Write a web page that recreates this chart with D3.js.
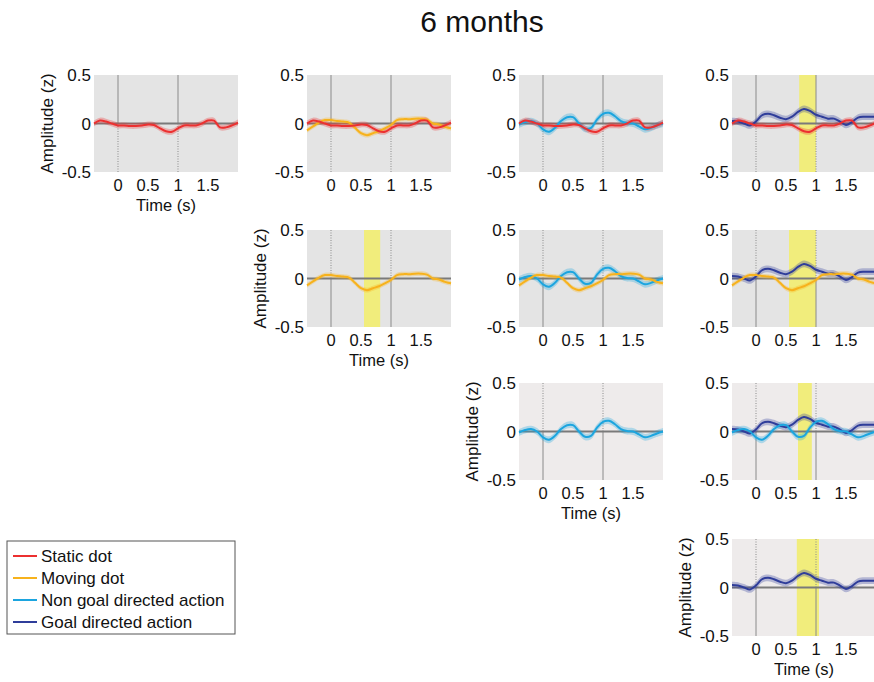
<!DOCTYPE html>
<html>
<head>
<meta charset="utf-8">
<script src="https://cdn.jsdelivr.net/npm/d3@7"></script>
<style>
  body { margin: 0; background: #fff; }
  text { font-family: "Liberation Sans", Arial, sans-serif; fill: #111; }
</style>
</head>
<body>
<svg id="chart"></svg>
<script>
// time points (s)
var time = [-0.4, -0.3, -0.2, -0.1, 0, 0.1, 0.2, 0.3, 0.4, 0.5, 0.6, 0.7, 0.8,
            0.9, 1.0, 1.1, 1.2, 1.3, 1.4, 1.5, 1.6, 1.7, 1.8, 1.9, 2.0];

// conditions, in legend order
var conditions = ["Static dot", "Moving dot", "Non goal directed action", "Goal directed action"];
var colors = ["#ec3030", "#f7b21c", "#1ca5df", "#2f3d9a"];

// mean amplitude (z) per condition
var staticDot = [0.0, 0.03, 0.02, 0.0, -0.02, -0.02, -0.025, -0.025, -0.02, -0.01, -0.015, -0.05, -0.08,
                 -0.085, -0.05, -0.02, -0.02, -0.02, 0.0, 0.03, 0.03, -0.04, -0.04, -0.02, 0.01];
var movingDot = [-0.07, -0.03, 0.01, 0.035, 0.035, 0.025, 0.02, 0.01, -0.045, -0.1, -0.12, -0.1, -0.08,
                 -0.05, -0.015, 0.035, 0.045, 0.045, 0.05, 0.05, 0.04, 0.0, -0.01, -0.035, -0.05];
var nonGoal   = [-0.01, 0.015, 0.025, 0.0, -0.06, -0.085, -0.045, 0.025, 0.065, 0.065, 0.0, -0.055, -0.045,
                 0.04, 0.1, 0.11, 0.075, 0.025, 0.005, 0.0, -0.03, -0.06, -0.045, -0.02, 0.0];
var goal      = [0.025, 0.02, 0.0, -0.02, 0.02, 0.085, 0.1, 0.085, 0.06, 0.045, 0.07, 0.12, 0.15,
                 0.13, 0.09, 0.07, 0.05, 0.05, 0.02, -0.015, 0.015, 0.06, 0.07, 0.07, 0.07];
var series = [staticDot, movingDot, nonGoal, goal];

// standard error per condition
var stdErr = [0.03, 0.025, 0.035, 0.035];

// significant windows (s) for each [row, col] comparison
var sigWindows = [
  {row: 0, col: 3, from: 0.72, to: 1.0},
  {row: 1, col: 1, from: 0.55, to: 0.82},
  {row: 1, col: 3, from: 0.55, to: 1.0},
  {row: 2, col: 3, from: 0.70, to: 0.93},
  {row: 3, col: 3, from: 0.68, to: 1.05}
];

var yTicks = [0.5, 0, -0.5];
var xTicks = [0, 0.5, 1, 1.5];
var markers = [0, 1];

var W = 874, H = 682;
var colX = [94, 307, 519, 732];
var rowY = [75, 230, 383, 539];
var pw = 144, ph = 97;

var svg = d3.select("#chart").attr("width", W).attr("height", H);

svg.append("text")
    .attr("x", 482).attr("y", 32)
    .attr("text-anchor", "middle")
    .style("font-size", "30px")
    .text("6 months");

var x = d3.scaleLinear().domain([-0.4, 2.0]).range([0, pw]);
var y = d3.scaleLinear().domain([-0.5, 0.5]).range([ph, 0]);

var line = d3.line()
    .x(function(d) { return x(d.t); })
    .y(function(d) { return y(d.v); })
    .curve(d3.curveCatmullRom);

var band = d3.area()
    .x(function(d) { return x(d.t); })
    .y0(function(d) { return y(d.v - d.e); })
    .y1(function(d) { return y(d.v + d.e); })
    .curve(d3.curveCatmullRom);

function points(i) {
  return time.map(function(t, k) { return {t: t, v: series[i][k], e: stdErr[i]}; });
}

for (var r = 0; r < 4; r++) {
  for (var c = r; c < 4; c++) {
    var g = svg.append("g")
        .attr("transform", "translate(" + colX[c] + "," + rowY[r] + ")");

    g.append("rect")
        .attr("width", pw).attr("height", ph)
        .attr("fill", r < 2 ? "#e4e4e4" : "#eeebeb");

    // significance window
    sigWindows.filter(function(s) { return s.row === r && s.col === c; }).forEach(function(s) {
      g.append("rect")
          .attr("x", x(s.from)).attr("width", x(s.to) - x(s.from))
          .attr("height", ph)
          .attr("fill", "#f1ed7c");
    });

    // stimulus markers: solid on one half, dotted on the other
    markers.forEach(function(m) {
      g.append("line")
          .attr("x1", x(m)).attr("x2", x(m))
          .attr("y1", 0).attr("y2", y(0))
          .attr("stroke", "#8a8a8a").attr("stroke-width", 1)
          .attr("stroke-dasharray", r === 0 ? null : "1,1.5");
      g.append("line")
          .attr("x1", x(m)).attr("x2", x(m))
          .attr("y1", y(0)).attr("y2", ph)
          .attr("stroke", "#8a8a8a").attr("stroke-width", 1)
          .attr("stroke-dasharray", r === 0 ? "1,1.5" : null);
    });

    g.append("line")
        .attr("x1", 0).attr("x2", pw)
        .attr("y1", y(0)).attr("y2", y(0))
        .attr("stroke", "#7a7a7a").attr("stroke-width", 2);

    var shown = c === r ? [r] : [c, r];
    shown.forEach(function(i) {
      g.append("path")
          .datum(points(i))
          .attr("d", band)
          .attr("fill", colors[i])
          .attr("fill-opacity", 0.3);
    });
    shown.forEach(function(i) {
      g.append("path")
          .datum(points(i))
          .attr("d", line)
          .attr("fill", "none")
          .attr("stroke", colors[i])
          .attr("stroke-width", 2);
    });

    // y tick labels
    g.selectAll(".yt").data(yTicks).enter().append("text")
        .attr("x", -3).attr("y", function(d) { return y(d); })
        .attr("dy", "0.36em")
        .attr("text-anchor", "end")
        .style("font-size", "17px")
        .text(function(d) { return d === 0 ? "0" : d; });

    // x tick labels
    g.selectAll(".xt").data(xTicks).enter().append("text")
        .attr("x", function(d) { return x(d); })
        .attr("y", ph + 19)
        .attr("text-anchor", "middle")
        .style("font-size", "16.5px")
        .text(function(d) { return d; });

    if (c === r) {
      g.append("text")
          .attr("x", pw / 2).attr("y", ph + 39)
          .attr("text-anchor", "middle")
          .style("font-size", "16.5px")
          .text("Time (s)");
      g.append("text")
          .attr("transform", "rotate(-90)")
          .attr("x", -ph / 2).attr("y", -41)
          .attr("text-anchor", "middle")
          .style("font-size", "17px")
          .text("Amplitude (z)");
    }
  }
}

// legend
var legend = svg.append("g").attr("transform", "translate(7,541)");
legend.append("rect")
    .attr("width", 228).attr("height", 93)
    .attr("fill", "#fff").attr("stroke", "#555").attr("stroke-width", 1);
conditions.forEach(function(name, i) {
  var ly = 15 + i * 22;
  legend.append("line")
      .attr("x1", 6).attr("x2", 30).attr("y1", ly).attr("y2", ly)
      .attr("stroke", colors[i]).attr("stroke-width", 2);
  legend.append("text")
      .attr("x", 34).attr("y", ly).attr("dy", "0.36em")
      .style("font-size", "17px")
      .text(name);
});
</script>
</body>
</html>
